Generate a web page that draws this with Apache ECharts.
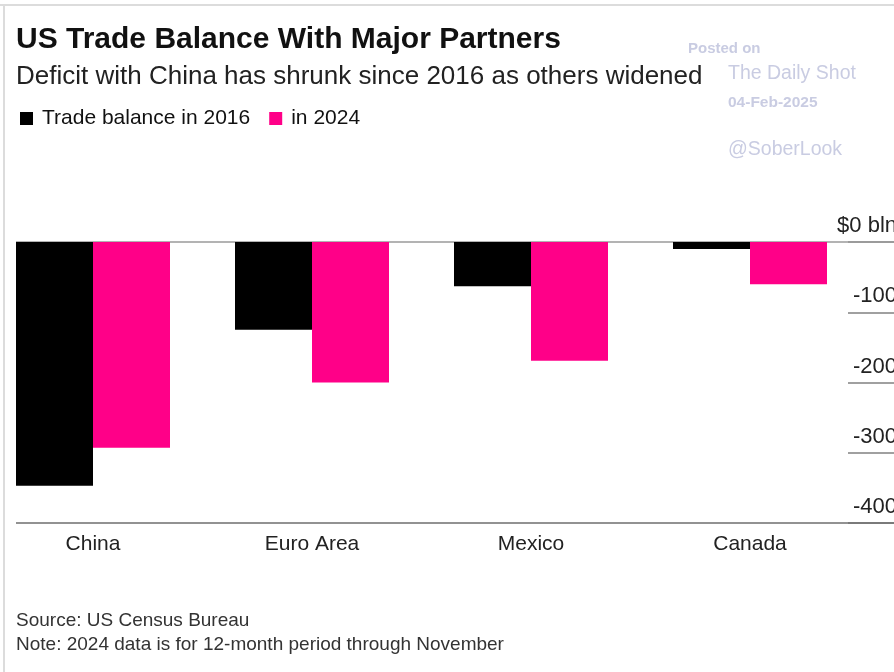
<!DOCTYPE html>
<html>
<head>
<meta charset="utf-8">
<script src="https://cdn.jsdelivr.net/npm/echarts@6/dist/echarts.min.js"></script>
<style>
html,body{margin:0;padding:0;background:#fff;}
#chart{width:894px;height:672px;}
</style>
</head>
<body>
<div id="chart"></div>
<script>
var categories = ['China', 'Euro Area', 'Mexico', 'Canada'];
var balance2016 = [-347, -125, -63, -10];
var balance2024 = [-293, -200, -169, -60];
var yTicks = { min: -400, max: 0, interval: 100 };
var seriesNames = ['Trade balance in 2016', 'in 2024'];
var colors = ['#000000', '#ff0088'];

var FONT = '"Liberation Sans", Arial, sans-serif';
var chart = echarts.init(document.getElementById('chart'), null, { renderer: 'canvas' });

var gridBase = { top: 242, height: 281, containLabel: false, outerBoundsMode: 'none' };
function grid(l, r) { return Object.assign({ left: l, right: r }, gridBase); }

var option = {
  backgroundColor: '#ffffff',
  animation: false,
  title: [
    { text: 'US Trade Balance With Major Partners', left: 16, top: 25, padding: 0,
      textStyle: { fontFamily: FONT, fontSize: 30, fontWeight: 'bold', color: '#111', lineHeight: 30 } },
    { text: 'Deficit with China has shrunk since 2016 as others widened', left: 16, top: 64, padding: 0,
      textStyle: { fontFamily: FONT, fontSize: 26, fontWeight: 'normal', color: '#222', lineHeight: 26 } },
    { text: 'Source: US Census Bureau', left: 16, top: 611, padding: 0,
      textStyle: { fontFamily: FONT, fontSize: 19, fontWeight: 'normal', color: '#333', lineHeight: 19 } },
    { text: 'Note: 2024 data is for 12-month period through November', left: 16, top: 635, padding: 0,
      textStyle: { fontFamily: FONT, fontSize: 19, fontWeight: 'normal', color: '#333', lineHeight: 19 } }
  ],
  legend: {
    left: 20, top: 108, padding: 0, itemWidth: 13, itemHeight: 13, itemGap: 19,
    icon: 'rect',
    data: seriesNames,
    textStyle: { fontFamily: FONT, fontSize: 21, color: '#111', padding: [0, 0, 0, 4] }
  },
  grid: [ grid(-16.5, 34.5), grid(848, 0), grid(16, 0) ],
  xAxis: [
    { type: 'category', gridIndex: 0, data: categories,
      axisLine: { show: false, onZero: false }, axisTick: { show: false },
      axisLabel: { margin: 11, fontFamily: FONT, fontSize: 21, color: '#222' } },
    { type: 'value', gridIndex: 1, min: 0, max: 1, show: false },
    { type: 'value', gridIndex: 2, min: 0, max: 1, show: false }
  ],
  yAxis: [
    { type: 'value', gridIndex: 0, min: yTicks.min, max: yTicks.max, interval: yTicks.interval, show: false },
    { type: 'value', gridIndex: 1, min: yTicks.min, max: yTicks.max, interval: yTicks.interval,
      position: 'right',
      axisLine: { show: false },
      axisTick: { show: false },
      splitLine: { show: true, lineStyle: { color: '#808080', width: 1.5 } },
      axisLabel: {
        inside: true, margin: -3, verticalAlign: 'bottom', padding: [0, 0, 5, 0],
        fontFamily: FONT, fontSize: 22, color: '#222', showMinLabel: true, showMaxLabel: true,
        formatter: function (v) { return v === 0 ? '$0 bln' : String(v); }
      } },
    { type: 'value', gridIndex: 2, min: yTicks.min, max: yTicks.max, interval: yTicks.max - yTicks.min,
      axisLine: { show: false }, axisTick: { show: false }, axisLabel: { show: false },
      splitLine: { show: true, lineStyle: { color: ['#6e6e6e', '#9a9a9a'], width: 1.5 } } }
  ],
  series: [
    { name: seriesNames[0], type: 'bar', xAxisIndex: 0, yAxisIndex: 0, data: balance2016,
      barWidth: 77, barGap: '0%', itemStyle: { color: colors[0] } },
    { name: seriesNames[1], type: 'bar', xAxisIndex: 0, yAxisIndex: 0, data: balance2024,
      barWidth: 77, barGap: '0%', itemStyle: { color: colors[1] } }
  ],
  graphic: [
    { type: 'line', shape: { x1: 0, y1: 5, x2: 894, y2: 5 }, style: { stroke: '#dcdcdc', lineWidth: 2 }, silent: true },
    { type: 'line', shape: { x1: 4, y1: 5, x2: 4, y2: 672 }, style: { stroke: '#dcdcdc', lineWidth: 2 }, silent: true },
    { type: 'text', left: 688, top: 41, silent: true,
      style: { text: 'Posted on', font: 'bold 15px ' + FONT, fill: '#c9cce2' } },
    { type: 'text', left: 728, top: 64, silent: true,
      style: { text: 'The Daily Shot', font: '19.5px ' + FONT, fill: '#c9cce2' } },
    { type: 'text', left: 728, top: 95, silent: true,
      style: { text: '04-Feb-2025', font: 'bold 15.5px ' + FONT, fill: '#c9cce2' } },
    { type: 'text', left: 728, top: 140, silent: true,
      style: { text: '@SoberLook', font: '19.5px ' + FONT, fill: '#c9cce2' } }
  ]
};
chart.setOption(option);
</script>
</body>
</html>
